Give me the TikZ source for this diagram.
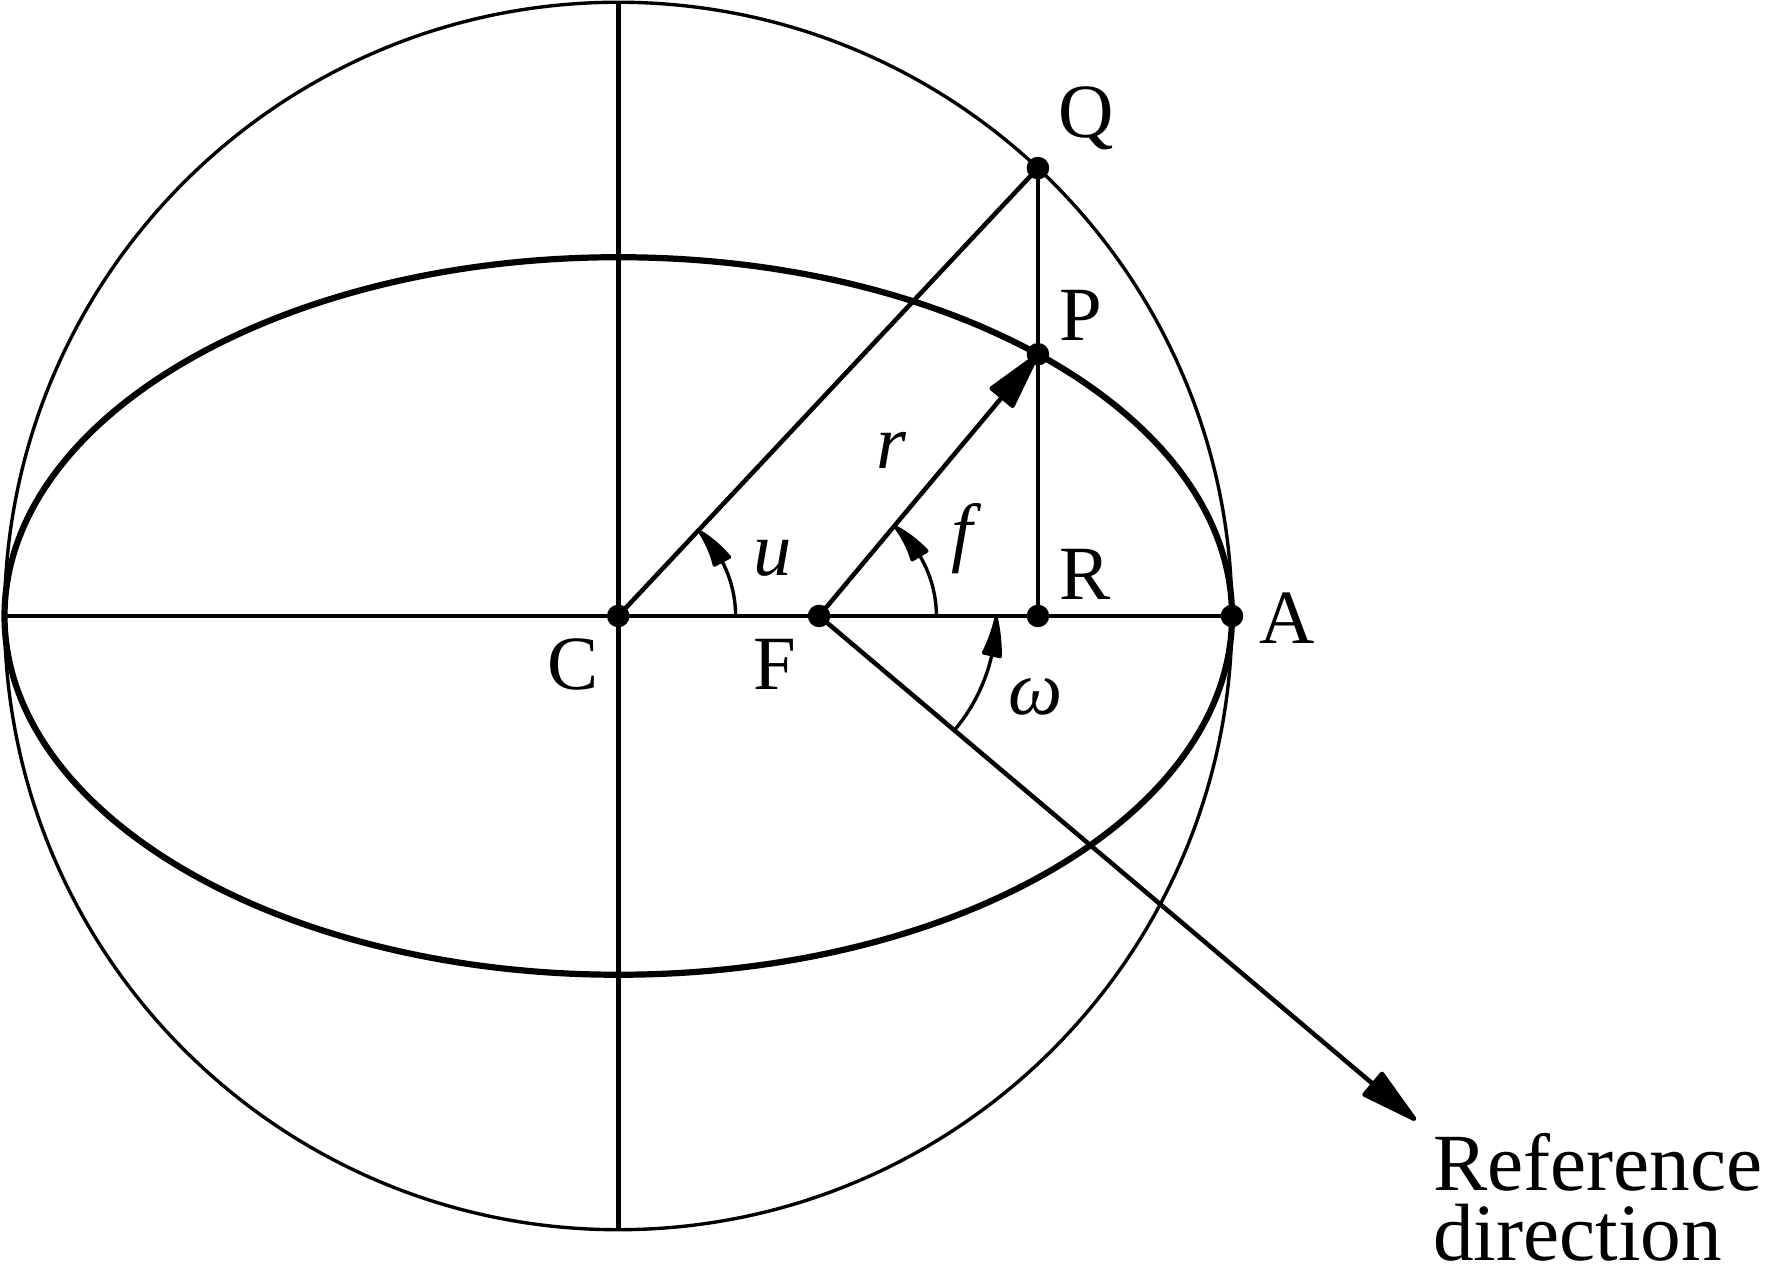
\documentclass[tikz,border=0pt]{standalone}
\usepackage{fontspec}
\setmainfont{Liberation Serif}
\usetikzlibrary{arrows.meta,bending}
\begin{document}
\begin{tikzpicture}[x=1pt,y=1pt,
  circ/.style={line width=3pt},
  axisline/.style={line width=4pt},
  orbit/.style={line width=5.5pt},
  dot/.style={circle,fill=black,inner sep=0pt,minimum size=20pt},
  lbl/.style={inner sep=0pt,anchor=base,font=\fontsize{68}{70}\selectfont},
  reftext/.style={inner sep=0pt,anchor=north west,align=left,font=\fontsize{72}{62}\selectfont},
  bigtip/.style={-{Triangle[length=58pt,width=28pt,round]}},
  arctip/.style={-{Triangle[length=42pt,width=18pt,round,bend]}}
]
\useasboundingbox (0,0) rectangle (1568,1131);
\coordinate (C) at (548,585);
\coordinate (F) at (726,585);
\coordinate (R) at (920,585);
\coordinate (A) at (1092,585);
\coordinate (Q) at (920,982);
\coordinate (P) at (920,817);
\coordinate (L) at (4,585);
\coordinate (T) at (548,1129);
\coordinate (B) at (548,41);
\coordinate (Tip) at (1255,138);
% circle and ellipse
\draw[circ] (C) circle[radius=544];
\draw[orbit] (C) ellipse[x radius=544, y radius=318];
% axes
\draw[axisline] (L) -- (A);
\draw[axisline] (T) -- (B);
% lines
\draw[axisline] (C) -- (Q);
\draw[axisline] (Q) -- (R);
\draw[axisline,bigtip] (F) -- (P);
\draw[axisline,bigtip] (F) -- (Tip);
% angle arcs
\draw[circ,arctip] (C) ++(104,0) arc[start angle=0, end angle=46.9, radius=104];
\draw[circ,arctip] (F) ++(104,0) arc[start angle=0, end angle=50.1, radius=104];
\draw[circ,arctip] (F) ++(-40.2:157) arc[start angle=-40.2, end angle=0, radius=157];
% dots
\node[dot] (dC) at (C) {};
\node[dot] (dF) at (F) {};
\node[dot] (dR) at (R) {};
\node[dot] (dA) at (A) {};
\node[dot] (dQ) at (Q) {};
\node[dot] (dP) at (P) {};
% labels
\node[lbl] (lQ) at (963,1009) {Q};
\node[lbl] (lP) at (958,829) {P};
\node[lbl] (lR) at (962,600) {R};
\node[lbl] (lA) at (1141,561) {A};
\node[lbl] (lC) at (508,520) {C};
\node[lbl] (lF) at (687,520) {F};
\node[lbl] (lu) at (685,621) {\textit{u}};
\node[lbl] (lf) at (857,637) {\textit{f}};
\node[lbl] (lr) at (790,716) {\textit{r}};
\node[lbl] (lw) at (918,498) {\textit{ω}};
\node[reftext] (ref) at (1270,127) {Reference\\direction};
\end{tikzpicture}
\end{document}
